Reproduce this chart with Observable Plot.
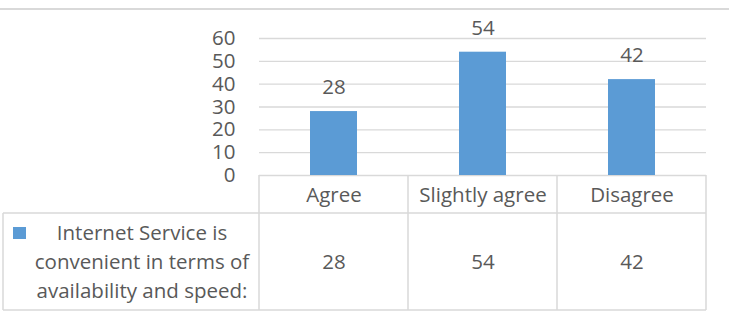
<!DOCTYPE html>
<html>
<head>
<meta charset="utf-8">
<script src="https://cdn.jsdelivr.net/npm/d3@7"></script>
<script src="https://cdn.jsdelivr.net/npm/@observablehq/plot@0.6"></script>
<style>
  html, body { margin: 0; padding: 0; background: #fff; }
</style>
</head>
<body>
<div id="chart"></div>
<script>
const categories = ["Agree", "Slightly agree", "Disagree"];
const values = [28, 54, 42];
const yTicks = [0, 10, 20, 30, 40, 50, 60];
const seriesLines = ["Internet Service is", "convenient in terms of", "availability and speed:"];

const data = categories.map((c, i) => ({category: c, value: values[i]}));

const FONT = "'Open Sans', sans-serif";
const FS = 20.5;
const TEXT = "#595959";
const GRID = "#d9d9d9";
const BLUE = "#5b9bd5";

const plot = Plot.plot({
  width: 729,
  height: 312,
  marginLeft: 259,
  marginRight: 23,
  marginTop: 38,
  marginBottom: 137,
  style: {fontFamily: FONT, fontSize: FS + "px", color: TEXT, background: "#fff", overflow: "visible"},
  x: {domain: categories, padding: 0, axis: null},
  y: {domain: [0, 60]},
  marks: [
    Plot.ruleY(yTicks, {stroke: GRID, strokeWidth: 1.3}),
    Plot.axisY({ticks: yTicks, tickSize: 0, tickPadding: 24, fontSize: FS, label: null}),
    Plot.barY(data, {x: "category", y: "value", fill: BLUE, insetLeft: 51, insetRight: 51}),
    Plot.text(data, {x: "category", y: "value", text: d => String(d.value), dy: -24, fontSize: FS, fill: TEXT}),
    Plot.text(categories, {x: d => d, frameAnchor: "bottom", lineAnchor: "middle", dy: 20, fontSize: FS, fill: TEXT}),
    Plot.text(data, {x: "category", frameAnchor: "bottom", lineAnchor: "middle", dy: 87, text: d => String(d.value), fontSize: FS, fill: TEXT})
  ]
});

document.getElementById("chart").appendChild(plot);

// Data table grid and legend drawn with the plot's own x scale
const xs = plot.scale("x");
const bw = xs.bandwidth;
const svg = d3.select(plot);
const edges = categories.map(c => xs.apply(c)).concat([xs.apply(categories[categories.length - 1]) + bw]);
const left = 3, headerTop = 175, rowTop = 213, bottom = 310;
const right = edges[edges.length - 1];

const g = svg.append("g").attr("stroke", GRID).attr("stroke-width", 1.5).attr("fill", "none");
edges.forEach(x => g.append("line").attr("x1", x).attr("x2", x).attr("y1", headerTop).attr("y2", bottom));
g.append("line").attr("x1", left).attr("x2", left).attr("y1", rowTop).attr("y2", bottom);
g.append("line").attr("x1", left).attr("x2", right).attr("y1", rowTop).attr("y2", rowTop);
g.append("line").attr("x1", left).attr("x2", right).attr("y1", bottom).attr("y2", bottom);

// chart top border
svg.append("line").attr("x1", 0).attr("x2", 729).attr("y1", 9).attr("y2", 9)
  .attr("stroke", GRID).attr("stroke-width", 2);

// legend key
svg.append("rect").attr("x", 13).attr("y", 227).attr("width", 13).attr("height", 12).attr("fill", BLUE);

// row header text
const tg = svg.append("g").attr("font-family", FONT).attr("font-size", FS).attr("fill", TEXT).attr("text-anchor", "middle");
seriesLines.forEach((s, i) => tg.append("text").attr("x", 142).attr("y", 240 + i * 29).text(s));
</script>
</body>
</html>
